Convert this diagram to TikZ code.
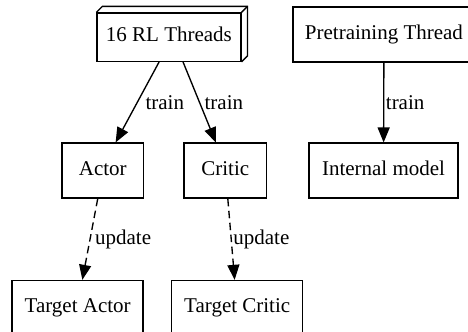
\documentclass[tikz,border=0pt]{standalone}
\usepackage{fontspec}
\setmainfont{Liberation Serif}
\usepackage{tikz}
\usetikzlibrary{arrows.meta}
\tikzset{
  gbox/.style={rectangle, draw=black, fill=white, line width=0.9pt, inner sep=0pt,
               minimum height=1.29cm, text height=9.5pt, text depth=3pt,
               font=\fontsize{14}{16}\selectfont},
  te/.style={draw=black, line width=0.9pt, -{Triangle[length=10pt,width=8pt]}},        % train edge
  ud/.style={te, dash pattern=on 5pt off 3pt},                                          % update edge
  lbl/.style={font=\fontsize{14}{16}\selectfont, anchor=west, inner sep=0pt},
}

\begin{document}
\begin{tikzpicture}
  \useasboundingbox (0,0) rectangle (10.97,7.78);
  % threads
  \node[gbox, minimum width=3.37cm, minimum height=1.13cm] (rl) at (3.96,6.91) {16 RL Threads};
  \draw[line width=0.9pt] (rl.north west) -- ++(4pt,4pt) -- ([shift={(4pt,4pt)}]rl.north east)
    -- ([shift={(4pt,4pt)}]rl.south east) -- (rl.south east);
  \draw[line width=0.9pt] (rl.north east) -- ++(4pt,4pt);
  \node[gbox, minimum width=4.26cm] (pre) at (9.00,6.97) {Pretraining Thread};
  % learners
  \node[gbox, minimum width=1.92cm] (act) at (2.41,3.78) {Actor};
  \node[gbox, minimum width=1.94cm] (crit) at (5.28,3.78) {Critic};
  \node[gbox, minimum width=3.49cm] (intm) at (8.99,3.78) {Internal model};
  % targets
  \node[gbox, minimum width=3.07cm] (tact) at (1.82,0.56) {Target Actor};
  \node[gbox, minimum width=3.07cm] (tcrit) at (5.56,0.56) {Target Critic};

  \draw[te] ([xshift=-0.23cm]rl.south) -- node[lbl, xshift=5pt] {train} ([xshift=0.30cm]act.north);
  \draw[te] ([xshift=0.33cm]rl.south) -- node[lbl, xshift=3pt] {train} ([xshift=-0.22cm]crit.north);
  \draw[te] (pre) -- node[lbl, xshift=1pt] {train} (intm);
  \draw[ud] ([xshift=-0.12cm]act.south) -- node[lbl, xshift=3pt] {update} ([xshift=0.11cm]tact.north);
  \draw[ud] ([xshift=0.06cm]crit.south) -- node[lbl, xshift=1pt] {update} ([xshift=-0.06cm]tcrit.north);
\end{tikzpicture}
\end{document}
